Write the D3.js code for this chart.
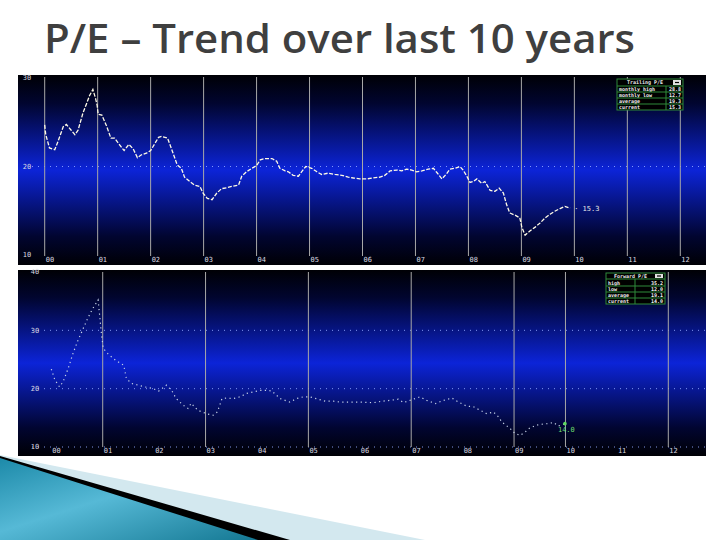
<!DOCTYPE html>
<html><head><meta charset="utf-8">
<script src="https://cdn.jsdelivr.net/npm/d3@7"></script>
<style>html,body{margin:0;padding:0;background:#fff;}svg{display:block;}</style>
</head><body>
<script>
const titleText = "P/E – Trend over last 10 years";
const yearLabels = ["00","01","02","03","04","05","06","07","08","09","10","11","12"];
const topGridYears = [2000,2001,2002,2003,2004,2005,2006,2007,2008,2009,2010,2011,2012];
const bottomGridYears = [2001,2003,2005,2007,2009,2010,2012];
const topYTicks = [30,20,10];
const bottomYTicks = [40,30,20,10];

const trailingT = [2000.00,2000.02,2000.09,2000.19,2000.25,2000.35,2000.41,2000.50,2000.57,2000.63,2000.72,2000.79,2000.85,2000.91,2000.96,2000.99,2001.01,2001.08,2001.16,2001.25,2001.32,2001.42,2001.50,2001.59,2001.67,2001.75,2001.82,2001.92,2002.00,2002.08,2002.15,2002.21,2002.32,2002.40,2002.50,2002.58,2002.64,2002.74,2002.83,2002.93,2002.99,2003.07,2003.16,2003.25,2003.34,2003.44,2003.53,2003.66,2003.72,2003.81,2003.91,2004.00,2004.07,2004.16,2004.29,2004.38,2004.44,2004.54,2004.60,2004.69,2004.79,2004.85,2004.93,2005.04,2005.14,2005.23,2005.35,2005.48,2005.61,2005.73,2005.83,2005.95,2006.08,2006.20,2006.33,2006.42,2006.52,2006.65,2006.74,2006.83,2006.93,2007.02,2007.12,2007.24,2007.34,2007.40,2007.50,2007.59,2007.65,2007.75,2007.84,2007.90,2007.97,2008.03,2008.09,2008.16,2008.25,2008.31,2008.41,2008.50,2008.58,2008.66,2008.72,2008.78,2008.88,2008.97,2009.01,2009.07,2009.16,2009.26,2009.35,2009.45,2009.54,2009.63,2009.73,2009.82,2009.92];
const trailingPE = [24.7,23.6,22.1,21.9,22.8,24.5,24.75,24.1,23.6,24.1,26.0,27.1,28.05,28.7,27.7,26.9,25.9,25.8,24.7,23.2,23.2,22.4,21.8,22.5,22.0,21.0,21.3,21.5,21.8,22.6,23.3,23.4,23.2,21.9,20.2,19.8,18.8,18.3,17.9,17.75,17.0,16.4,16.25,17.0,17.5,17.6,17.75,17.9,18.9,19.4,19.8,20.1,20.75,20.9,20.9,20.6,19.8,19.5,19.4,19.0,18.9,19.4,20.0,19.8,19.4,19.1,19.25,19.1,19.0,18.8,18.7,18.6,18.6,18.7,18.8,19.0,19.5,19.6,19.5,19.7,19.6,19.4,19.5,19.7,19.8,19.35,18.6,19.2,19.7,19.8,20.0,19.6,18.9,18.2,18.3,18.6,18.1,18.3,17.3,17.2,17.55,17.0,15.7,14.75,14.5,14.2,13.1,12.25,12.7,13.15,13.6,14.2,14.6,14.95,15.25,15.5,15.3];

const forwardT = [2000.00,2000.07,2000.16,2000.23,2000.33,2000.42,2000.52,2000.62,2000.71,2000.81,2000.91,2000.94,2000.97,2001.01,2001.10,2001.20,2001.30,2001.41,2001.46,2001.56,2001.69,2001.82,2001.98,2002.09,2002.24,2002.34,2002.43,2002.56,2002.66,2002.72,2002.85,2003.02,2003.15,2003.23,2003.32,2003.41,2003.54,2003.67,2003.80,2003.93,2004.06,2004.19,2004.29,2004.45,2004.64,2004.77,2004.90,2005.03,2005.33,2005.49,2005.62,2005.81,2006.01,2006.27,2006.43,2006.59,2006.75,2006.85,2007.17,2007.30,2007.47,2007.63,2007.79,2007.92,2008.08,2008.21,2008.34,2008.47,2008.60,2008.70,2008.76,2008.92,2009.02,2009.12,2009.22,2009.31,2009.48,2009.64,2009.77,2009.86,2009.99];
const forwardPE = [23.35,21.5,20.3,21.2,23.5,26.0,28.3,30.3,32.1,33.8,35.2,32.6,29.8,26.9,26.0,25.2,24.6,24.0,21.75,20.9,20.6,20.3,20.0,19.6,20.6,19.7,18.3,17.2,16.6,17.5,16.3,15.7,15.45,16.0,18.3,18.4,18.3,18.6,19.2,19.45,19.7,19.7,19.6,18.3,17.7,18.3,18.6,18.6,17.85,17.85,17.7,17.7,17.7,17.6,17.85,18.0,18.2,17.6,18.6,18.0,17.45,18.0,18.4,17.7,17.0,16.9,16.3,15.7,16.0,15.15,14.3,13.2,12.3,12.0,12.6,13.3,13.85,14.0,14.2,13.6,14.0];

const trailingLegendTitle = "Trailing P/E";
const trailingLegendLabels = ["monthly high","monthly low","average","current"];
const trailingLegendValues = ["28.8","12.7","19.3","15.3"];
const forwardLegendTitle = "Forward P/E";
const forwardLegendLabels = ["high","low","average","current"];
const forwardLegendValues = ["35.2","12.0","19.1","14.0"];

const W = 720, H = 540;
const svg = d3.select("body").append("svg").attr("width", W).attr("height", H);
const defs = svg.append("defs");

const grad = defs.append("linearGradient").attr("id","bgGrad").attr("x1",0).attr("y1",0).attr("x2",0).attr("y2",1);
[[0,"#000005"],[0.15,"#010530"],[0.5,"#0c24d8"],[0.85,"#010530"],[1,"#000005"]].forEach(([o,c])=>grad.append("stop").attr("offset",o).attr("stop-color",c));
const tealGrad = defs.append("linearGradient").attr("id","tealGrad").attr("x1",0).attr("y1",0).attr("x2",1).attr("y2",1);
[[0,"#1d8aa9"],[0.45,"#56b9d6"],[1,"#147893"]].forEach(([o,c])=>tealGrad.append("stop").attr("offset",o).attr("stop-color",c));

const title = svg.append("text").attr("x",44).attr("y",53)
  .attr("font-family","'Open Sans', 'DejaVu Sans', sans-serif").attr("font-size",40).attr("font-weight",600)
  .attr("fill","#3f3f3f").text(titleText);
title.attr("textLength",591).attr("lengthAdjust","spacingAndGlyphs");

const smallFont = "'DejaVu Sans Mono', monospace";

function panel(cfg) {
  const g = svg.append("g");
  g.append("rect").attr("x",cfg.x0).attr("y",cfg.y0).attr("width",cfg.x1-cfg.x0).attr("height",cfg.y1-cfg.y0).attr("fill","url(#bgGrad)");
  const x = d3.scaleLinear().domain([2000,2012]).range(cfg.xr);
  const y = d3.scaleLinear().domain(cfg.yd).range(cfg.yr);
  g.selectAll(".hg").data(cfg.hgrid).join("line")
    .attr("x1",cfg.x0+14).attr("x2",cfg.x1).attr("y1",d=>y(d)).attr("y2",d=>y(d))
    .attr("stroke","#8ea4ff").attr("stroke-width",1).attr("stroke-dasharray","1,5").attr("opacity",0.9);
  g.selectAll(".vg").data(cfg.vgrid).join("line")
    .attr("x1",d=>x(d)).attr("x2",d=>x(d)).attr("y1",cfg.y0+2).attr("y2",cfg.vBottom)
    .attr("stroke","#a8a8a8").attr("stroke-width",1);
  g.selectAll(".yl").data(cfg.yticks).join("text")
    .attr("x",cfg.ylx).attr("y",d=>y(d)).attr("dy","0.35em").attr("text-anchor","middle")
    .attr("font-family",smallFont).attr("font-size",7).attr("fill","#d8d8e0").text(d=>d);
  g.selectAll(".xl").data(yearLabels).join("text")
    .attr("x",(d,i)=>x(2000+i)+1).attr("y",cfg.xly).attr("dy","0.35em")
    .attr("font-family",smallFont).attr("font-size",7).attr("fill","#d8d8e0").text(d=>d);
  return {g,x,y};
}

const topP = panel({x0:18,x1:706,y0:75,y1:265,xr:[44.7,680.3],yd:[10,30],yr:[255,78],
  hgrid:[20],vgrid:topGridYears,vBottom:256,yticks:topYTicks,ylx:27,xly:260});
const topLine = d3.line().x(d=>topP.x(d[0])).y(d=>topP.y(d[1]));
const topData = d3.zip(trailingT, trailingPE);
topP.g.append("path").datum(topData).attr("d",topLine).attr("fill","none")
  .attr("stroke","#fffbe6").attr("stroke-width",1.3).attr("stroke-dasharray","4,1.6");
const lastTop = topData[topData.length-1];
topP.g.append("text").attr("x",topP.x(lastTop[0])+4).attr("y",topP.y(lastTop[1])).attr("dy","0.35em")
  .attr("font-family",smallFont).attr("font-size",7).attr("fill","#e8e8e8").text("· "+lastTop[1].toFixed(1));

const botP = panel({x0:18,x1:706,y0:270,y1:456,xr:[51.3,668.3],yd:[10,40],yr:[447,272],
  hgrid:[30,20,10],vgrid:bottomGridYears,vBottom:447,yticks:bottomYTicks,ylx:35,xly:451});
const botLine = d3.line().x(d=>botP.x(d[0])).y(d=>botP.y(d[1]));
const botData = d3.zip(forwardT, forwardPE);
botP.g.append("path").datum(botData).attr("d",botLine).attr("fill","none")
  .attr("stroke","#c8d4e8").attr("stroke-width",1.2).attr("stroke-dasharray","1.2,3.4");
const lastBot = botData[botData.length-1];
botP.g.append("circle").attr("cx",botP.x(lastBot[0])).attr("cy",botP.y(lastBot[1])).attr("r",1.8).attr("fill","#5fdc5f");
botP.g.append("text").attr("x",botP.x(lastBot[0])-7).attr("y",botP.y(lastBot[1])+6).attr("dy","0.35em")
  .attr("font-family",smallFont).attr("font-size",7).attr("fill","#6fdc6f").text(lastBot[1].toFixed(1));

function fitText(sel, maxW) {
  const n = sel.node();
  const w = n.getComputedTextLength();
  if (w > maxW) sel.attr("textLength", maxW).attr("lengthAdjust","spacingAndGlyphs");
}
function legend(x0, y0, w, valX, rowH, titleTxt, labels, values, fs) {
  const g = svg.append("g");
  const hH = rowH[0];
  const total = d3.sum(rowH);
  g.append("rect").attr("x",x0).attr("y",y0).attr("width",w).attr("height",total).attr("fill","#000");
  const t = g.append("text").attr("x",x0+ (w-10)/2).attr("y",y0+hH/2).attr("dy","0.35em").attr("text-anchor","middle")
    .attr("font-family",smallFont).attr("font-size",fs).attr("font-weight","bold").attr("fill","#e8e8e8").text(titleTxt);
  fitText(t, w-14);
  g.append("rect").attr("x",x0+w-10).attr("y",y0+1).attr("width",8).attr("height",hH-2).attr("fill","#e0e0e0");
  g.append("line").attr("x1",x0+w-8).attr("x2",x0+w-4).attr("y1",y0+hH/2).attr("y2",y0+hH/2).attr("stroke","#000").attr("stroke-width",1.2);
  let yy = y0 + hH;
  labels.forEach((lab,i)=>{
    const h = rowH[i+1];
    g.append("line").attr("x1",x0).attr("x2",x0+w).attr("y1",yy).attr("y2",yy).attr("stroke","#2f8a3a").attr("stroke-width",1);
    const a = g.append("text").attr("x",x0+2).attr("y",yy+h/2+0.3).attr("dy","0.35em")
      .attr("font-family",smallFont).attr("font-size",fs).attr("font-weight","bold").attr("fill","#f0f0f0").text(lab);
    fitText(a, valX - x0 - 3);
    const b = g.append("text").attr("x",w+x0-2).attr("y",yy+h/2+0.3).attr("dy","0.35em").attr("text-anchor","end")
      .attr("font-family",smallFont).attr("font-size",fs).attr("font-weight","bold").attr("fill","#f0f0f0").text(values[i]);
    yy += h;
  });
  g.append("line").attr("x1",valX).attr("x2",valX).attr("y1",y0+hH).attr("y2",y0+total).attr("stroke","#2f8a3a");
  g.append("rect").attr("x",x0).attr("y",y0).attr("width",w).attr("height",total).attr("fill","none").attr("stroke","#2f8a3a");
}
legend(617, 79, 66, 666, [7,6,6,6,6], trailingLegendTitle, trailingLegendLabels, trailingLegendValues, 5);
legend(606, 273, 59, 635, [6,7,6,6,6], forwardLegendTitle, forwardLegendLabels, forwardLegendValues, 5);

const deco = svg.append("g");
deco.append("path").attr("d", d3.line()([[0,455],[425,540],[0,540]])).attr("fill","#d3e8ef");
deco.append("path").attr("d", d3.line()([[0,456],[290,540],[0,540]])).attr("fill","#000");
deco.append("path").attr("d", d3.line()([[0,458],[258,540],[0,540]])).attr("fill","url(#tealGrad)");
</script>
</body></html>
